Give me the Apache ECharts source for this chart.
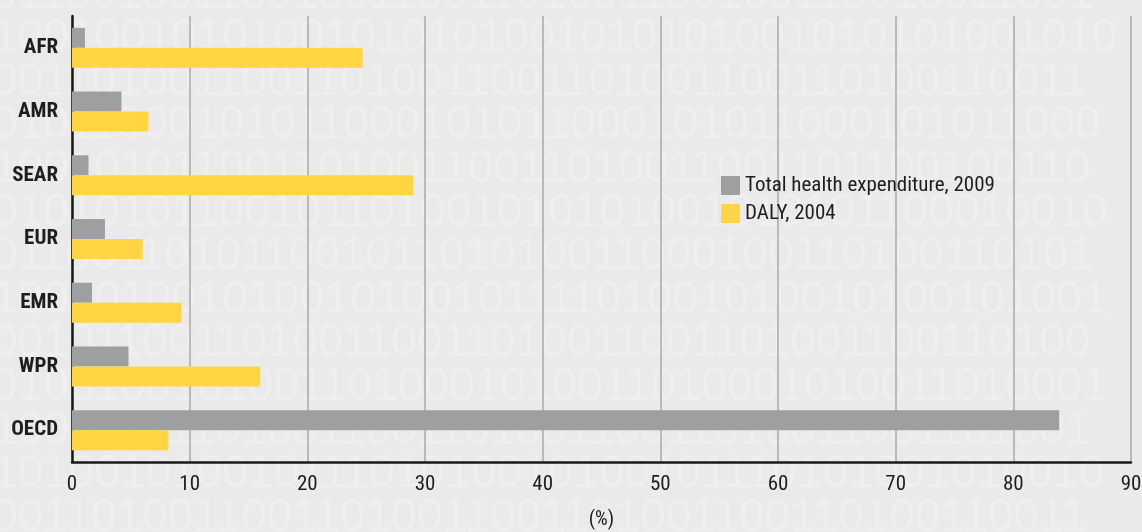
<!DOCTYPE html>
<html>
<head>
<meta charset="utf-8">
<script src="https://cdn.jsdelivr.net/npm/echarts@6/dist/echarts.min.js"></script>
<style>
  html, body { margin: 0; padding: 0; background: #e9eae9; }
  #chart { width: 1142px; height: 532px; }
</style>
</head>
<body>
<div id="chart"></div>
<script>
var regions = ['AFR', 'AMR', 'SEAR', 'EUR', 'EMR', 'WPR', 'OECD'];
var healthExp2009 = [1.1, 4.2, 1.4, 2.8, 1.7, 4.8, 83.9];
var daly2004 = [24.7, 6.5, 29.0, 6.0, 9.3, 16.0, 8.2];
var xTicks = [0, 10, 20, 30, 40, 50, 60, 70, 80, 90];

var font = "'Liberation Sans Narrow', 'Roboto Condensed', 'Arial Narrow', 'Liberation Sans', sans-serif";

// binary digits in the background, decoration only
var bgRows = [
    '01100100110010011001101001100100110010011001',
    '10010010101001010101001010101001010101001010',
    '00110100110011010011001101001100110100110011',
    '01011000101011000101011000101011000101011000',
    '10010101100110100110011010011001101100100110',
    '01010101100101101001010101001010101100010010',
    '01100110101100101101010011000100110100110101',
    '10010100101001010010111101001010010100101001',
    '00101100110100110011010011001101001100110100',
    '01001001010011010001010011010001010011010001',
    '10011001101001100110100110011010011001101001',
    '10100101001011101010010100101110101001010010',
    '00110100110011010011001101001100110100110011'
];
var graphics = [];
for (var i = 0; i < bgRows.length; i++) {
    graphics.push({
        type: 'text', silent: true, z: -10, left: -8, top: -28 + i * 43.6,
        style: { text: bgRows[i], fill: '#eeefee', font: '46px "Liberation Sans", sans-serif' }
    });
}

var chart = echarts.init(document.getElementById('chart'));
chart.setOption({
    backgroundColor: '#e9eae9',
    animation: false,
    graphic: graphics,
    grid: { left: 72, right: 11, top: 16, bottom: 70, outerBoundsMode: 'none', containLabel: false },
    legend: {
        orient: 'vertical',
        left: 716, top: 170,
        itemWidth: 19, itemHeight: 19, itemGap: 7,
        icon: 'rect',
        textStyle: { fontFamily: font, fontSize: 21, color: '#1e1e1e' },
        data: ['Total health expenditure, 2009', 'DALY, 2004']
    },
    xAxis: {
        type: 'value', min: 0, max: 90, interval: 10,
        name: '(%)', nameLocation: 'middle', nameGap: 48,
        nameTextStyle: { fontFamily: font, fontSize: 20, color: '#1e1e1e' },
        axisLine: { show: true, lineStyle: { color: '#1a1a1a', width: 2.5 } },
        axisTick: { show: false },
        axisLabel: {
            margin: 12, fontFamily: font, fontSize: 21, color: '#1e1e1e',
            formatter: function (v) { return xTicks.indexOf(v) >= 0 ? String(v) : ''; }
        },
        splitLine: { show: true, lineStyle: { color: '#a8a9a8', width: 1.5 } }
    },
    yAxis: {
        type: 'category', inverse: true, data: regions,
        axisLine: { show: true, onZero: false, lineStyle: { color: '#1a1a1a', width: 2.5 } },
        axisTick: { show: false },
        axisLabel: { margin: 14, fontFamily: font, fontSize: 21, fontWeight: 'bold', color: '#1e1e1e' }
    },
    series: [
        {
            name: 'Total health expenditure, 2009', type: 'bar',
            data: healthExp2009, barWidth: 20, barGap: '0%',
            itemStyle: { color: '#9e9fa0' }
        },
        {
            name: 'DALY, 2004', type: 'bar',
            data: daly2004, barWidth: 20, barGap: '0%',
            itemStyle: { color: '#ffd543' }
        }
    ]
});
</script>
</body>
</html>
